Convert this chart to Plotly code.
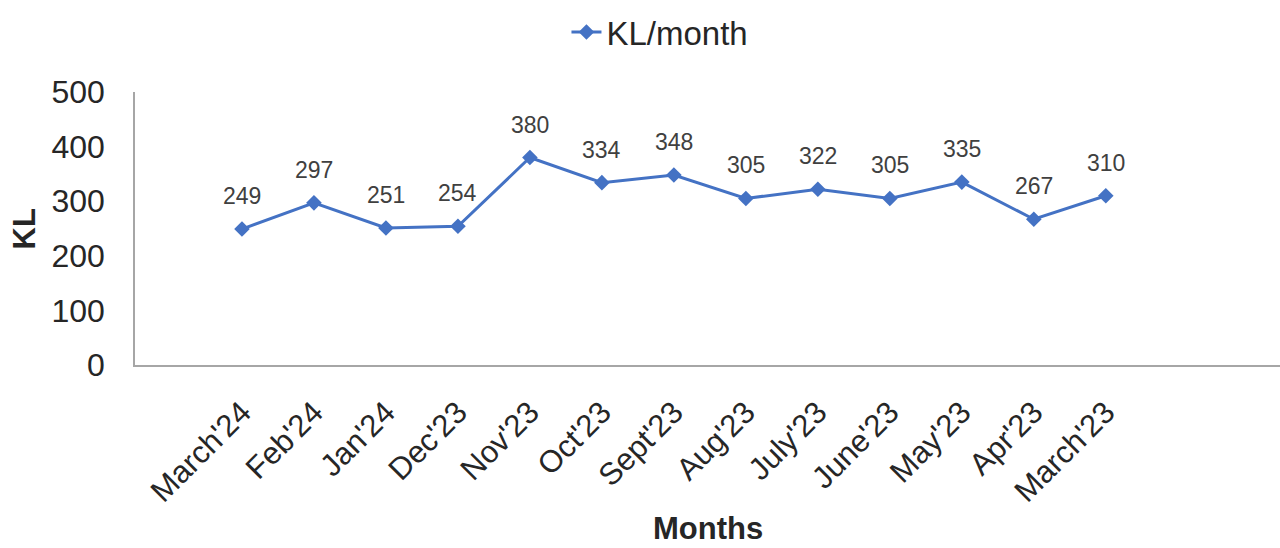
import plotly.graph_objects as go

months = ["March'24", "Feb'24", "Jan'24", "Dec'23", "Nov'23", "Oct'23", "Sept'23",
          "Aug'23", "July'23", "June'23", "May'23", "Apr'23", "March'23"]
kl_values = [249, 297, 251, 254, 380, 334, 348, 305, 322, 305, 335, 267, 310]
y_ticks = [0, 100, 200, 300, 400, 500]

FONT = "Liberation Sans, Arial, sans-serif"
BLUE = "#4472C4"
TXT = "#262626"

fig = go.Figure()
fig.add_trace(go.Scatter(
    x=months, y=kl_values, mode="lines+markers", name="KL/month",
    line=dict(color=BLUE, width=3),
    marker=dict(symbol="diamond", size=12, color=BLUE),
))

for m, v in zip(months, kl_values):
    fig.add_annotation(x=m, y=v, text=str(v), showarrow=False, yshift=33,
                       font=dict(family=FONT, size=23, color="#404040"))

# axis titles
fig.add_annotation(text="<b>Months</b>", xref="paper", yref="paper",
                   x=0.5, y=-0.6, xanchor="center", yanchor="middle",
                   showarrow=False, borderpad=0,
                   font=dict(family=FONT, size=31, color=TXT))
fig.add_annotation(text="<b>KL</b>", xref="paper", yref="paper",
                   x=-0.0961, y=0.5, xanchor="center", yanchor="middle",
                   textangle=-90, showarrow=False, borderpad=0,
                   font=dict(family=FONT, size=31, color=TXT))

fig.update_layout(
    width=1280, height=548,
    margin=dict(l=135, r=0, t=92, b=183, autoexpand=False),
    paper_bgcolor="white", plot_bgcolor="white",
    font=dict(family=FONT, color=TXT),
    showlegend=True,
    legend=dict(orientation="h", xref="container", yref="container",
                x=0.5156, xanchor="center", y=0.9416, yanchor="middle",
                font=dict(size=33, color=TXT)),
)
fig.update_xaxes(
    type="category", range=[-1.486, 14.42], automargin=False,
    showline=True, linecolor="#A6A6A6", linewidth=1.5,
    showgrid=False, ticks="", tickangle=-45,
    tickfont=dict(size=31, color=TXT), ticklabelstandoff=15,
)
fig.update_yaxes(
    range=[0, 500], tickvals=y_ticks, automargin=False,
    showline=True, linecolor="#A6A6A6", linewidth=1.5,
    showgrid=False, zeroline=False, ticks="",
    tickfont=dict(size=32, color=TXT), ticklabelstandoff=22,
)

fig.write_html("out.html", config={"displayModeBar": False},
               post_script="document.body.style.margin='0';document.body.style.overflow='hidden';")
